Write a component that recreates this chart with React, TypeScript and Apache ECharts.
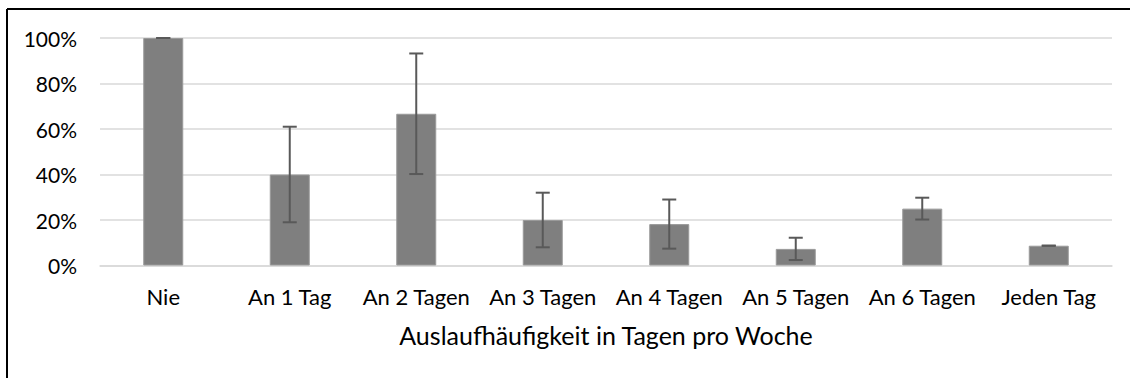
import React, { useEffect, useRef } from "react";
import * as echarts from "echarts";

const categories = ["Nie", "An 1 Tag", "An 2 Tagen", "An 3 Tagen", "An 4 Tagen", "An 5 Tagen", "An 6 Tagen", "Jeden Tag"];
const values = [100, 40, 66.7, 20, 18.2, 7.3, 25, 8.7];
const errors = [0, 21, 26.5, 12, 10.8, 4.9, 4.8, 0];
const yTicks = [0, 20, 40, 60, 80, 100];

const FONT = "Lato, 'Open Sans', sans-serif";

export default function App() {
  const ref = useRef<HTMLDivElement>(null);
  useEffect(() => {
    document.body.style.margin = "0";
    const chart = echarts.init(ref.current!, null, { renderer: "svg" });
    chart.setOption({
      animation: false,
      backgroundColor: "#ffffff",
      grid: { left: 100, right: 18, top: 38, bottom: 112.5 },
      xAxis: {
        type: "category",
        data: categories,
        axisLine: { lineStyle: { color: "#d9d9d9", width: 1.5 } },
        axisTick: { show: false },
        axisLabel: { color: "#000", fontFamily: FONT, fontSize: 22, margin: 20, interval: 0, hideOverlap: false },
        name: "Auslaufhäufigkeit in Tagen pro Woche",
        nameLocation: "middle",
        nameGap: 57,
        nameTextStyle: { color: "#000", fontFamily: FONT, fontSize: 25 },
      },
      yAxis: {
        type: "value",
        min: yTicks[0],
        max: yTicks[yTicks.length - 1],
        interval: 20,
        axisLine: { show: false },
        axisTick: { show: false },
        splitLine: { lineStyle: { color: "#d9d9d9", width: 1.5 } },
        axisLabel: { color: "#000", fontFamily: FONT, fontSize: 21, margin: 23, formatter: "{value}%" },
      },
      graphic: [
        { type: "line", shape: { x1: 7, y1: 9, x2: 1130, y2: 9 }, style: { stroke: "#000", lineWidth: 2 } },
        { type: "line", shape: { x1: 7, y1: 9, x2: 7, y2: 378 }, style: { stroke: "#000", lineWidth: 2 } },
      ],
      series: [
        {
          type: "bar",
          data: values,
          barWidth: 40,
          itemStyle: { color: "#7f7f7f", borderColor: "#9a9a9a", borderWidth: 1 },
        },
        {
          type: "custom",
          data: values.map((v, i) => [i, v - errors[i], v + errors[i]]),
          z: 10,
          renderItem: (params: any, api: any) => {
            const x = api.value(0);
            const lo = api.coord([x, api.value(1)]);
            const hi = api.coord([x, api.value(2)]);
            const hw = 7;
            const style = { stroke: "#595959", lineWidth: 2 };
            return {
              type: "group",
              children: [
                { type: "line", shape: { x1: lo[0], y1: lo[1], x2: hi[0], y2: hi[1] }, style },
                { type: "line", shape: { x1: hi[0] - hw, y1: hi[1], x2: hi[0] + hw, y2: hi[1] }, style },
                { type: "line", shape: { x1: lo[0] - hw, y1: lo[1], x2: lo[0] + hw, y2: lo[1] }, style },
              ],
            };
          },
        },
      ],
    });
    return () => chart.dispose();
  }, []);
  return <div ref={ref} style={{ width: 1130, height: 378 }} />;
}
